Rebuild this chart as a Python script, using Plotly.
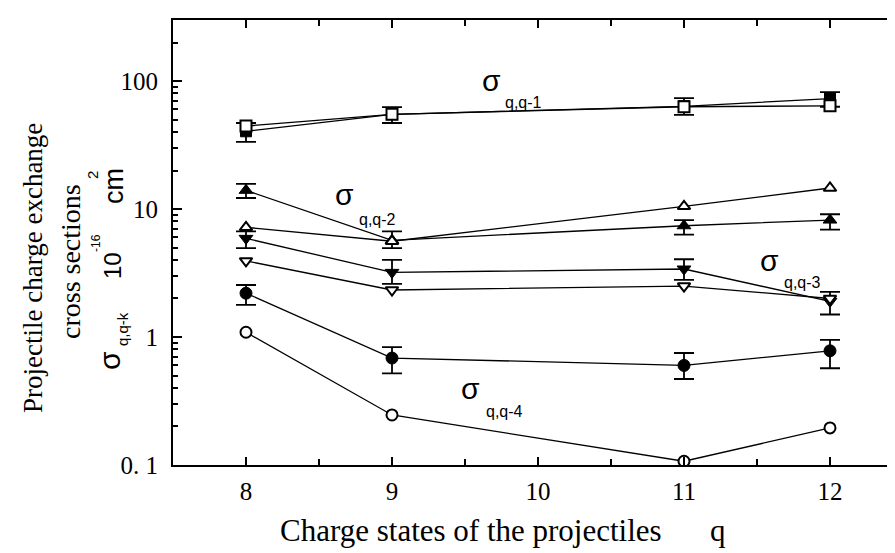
import plotly.graph_objects as go

# ---------------- data ----------------
q = [8, 9, 11, 12]

# sigma_{q,q-1}
sq1_filled = [40.5, 55, 63.5, 73]
sq1_filled_err_plus = [6.5, 7.5, 10, 9]
sq1_filled_err_minus = [7, 8, 9, 10]
sq1_open = [44.5, 55, 63, 64]

# sigma_{q,q-2}
sq2_filled = [14, 5.7, 7.4, 8.2]
sq2_filled_err_plus = [1.7, 1.0, 0.8, 0.9]
sq2_filled_err_minus = [1.8, 0.75, 1.1, 1.3]
sq2_open = [7.2, 5.6, 10.5, 14.6]

# sigma_{q,q-3}
sq3_filled = [5.9, 3.2, 3.4, 1.9]
sq3_filled_err_plus = [0.8, 0.8, 0.65, 0.35]
sq3_filled_err_minus = [0.95, 0.6, 0.6, 0.4]
sq3_open = [3.93, 2.33, 2.5, 2.0]

# sigma_{q,q-4}
sq4_filled = [2.2, 0.685, 0.6, 0.78]
sq4_filled_err_plus = [0.35, 0.15, 0.15, 0.17]
sq4_filled_err_minus = [0.42, 0.165, 0.13, 0.21]
sq4_open = [1.09, 0.246, 0.107, 0.195]

x_tickvals = [8, 9, 10, 11, 12]
x_ticktext = ["8", "9", "10", "11", "12"]
y_tickvals = [0.1, 1, 10, 100]
y_ticktext = ["0. 1", "1", "10", "100"]
y_minor = [0.2, 0.3, 0.4, 0.5, 0.6, 0.7, 0.8, 0.9,
           2, 3, 4, 5, 6, 7, 8, 9,
           20, 30, 40, 50, 60, 70, 80, 90, 200]

# ---------------- figure ----------------
W, H = 895, 553
ML, MR, MT, MB = 165, 0, 12, 96

fig = go.Figure()

LINE = dict(color="black", width=1.3)


def err(plus, minus):
    return dict(type="data", symmetric=False, array=plus, arrayminus=minus,
                color="black", thickness=1.8, width=10)


def filled(y, sym, size, plus, minus):
    fig.add_trace(go.Scatter(
        x=q, y=y, mode="lines+markers", line=LINE,
        marker=dict(symbol=sym, size=size, color="black",
                    line=dict(color="black", width=1)),
        error_y=err(plus, minus), showlegend=False))


def opened(y, sym, size):
    fig.add_trace(go.Scatter(
        x=q, y=y, mode="lines+markers", line=LINE,
        marker=dict(symbol=sym, size=size, color="white",
                    line=dict(color="black", width=2)),
        showlegend=False))


filled(sq1_filled, "square", 11, sq1_filled_err_plus, sq1_filled_err_minus)
opened(sq1_open, "square", 11)
filled(sq2_filled, "triangle-up", 12, sq2_filled_err_plus, sq2_filled_err_minus)
filled(sq3_filled, "triangle-down", 12, sq3_filled_err_plus, sq3_filled_err_minus)
opened(sq2_open, "triangle-up", 11)
opened(sq3_open, "triangle-down", 11)
filled(sq4_filled, "circle", 12, sq4_filled_err_plus, sq4_filled_err_minus)
opened(sq4_open, "circle", 11)

PW = W - ML - MR
PH = H - MT - MB


def px(x, y):
    return (x - ML) / PW, (H - MB - y) / PH


ann = []


def add_text(x, y, text, size, family="Liberation Sans", angle=0):
    xp, yp = px(x, y)
    ann.append(dict(x=xp, y=yp, xref="paper", yref="paper", text=text,
                    showarrow=False, xanchor="center", yanchor="middle",
                    textangle=angle,
                    font=dict(family=family, size=size, color="black")))


# sigma labels in plot
for sx, sy, bx, by, sub in [(483, 72, 515, 95, "q,q-1"),
                            (336, 187, 369, 211, "q,q-2"),
                            (761, 252, 794, 275, "q,q-3"),
                            (462, 380, 496, 403, "q,q-4")]:
    add_text(sx, sy, "σ", 30)
    add_text(bx, by, sub, 16)

# y-axis title
SERIF = "Liberation Serif"
add_text(25, 260, "Projectile charge exchange", 27, SERIF, -90)
add_text(63, 254, "cross sections", 28, SERIF, -90)
add_text(101, 353, "σ", 30, angle=-90)
add_text(114, 321, "q,q-k", 15, angle=-90)
add_text(104, 258, "10", 24, angle=-90)
add_text(88, 235, "-16", 12, angle=-90)
add_text(106, 178, "cm", 27, angle=-90)
add_text(85, 167, "2", 15, angle=-90)

# x-axis title
add_text(463, 522, "Charge states of the projectiles", 31, SERIF)
add_text(710, 522, "q", 31, SERIF)

fig.update_layout(
    width=W, height=H,
    margin=dict(l=ML, r=MR, t=MT, b=MB),
    paper_bgcolor="white", plot_bgcolor="white",
    annotations=ann,
    xaxis=dict(range=[7.5, 12.5], tickmode="array", tickvals=x_tickvals,
               ticktext=x_ticktext, ticks="inside", ticklen=8, tickwidth=2,
               tickcolor="black", showline=True, linecolor="black", linewidth=2,
               mirror="allticks", showgrid=False, zeroline=False,
               ticklabelstandoff=3,
               tickfont=dict(family=SERIF, size=25, color="black"),
               minor=dict(ticks="inside", ticklen=6, tickwidth=2, dtick=0.5,
                          tick0=7.5, tickcolor="black", showgrid=False)),
    yaxis=dict(type="log", range=[-1, 2.477], tickmode="array",
               tickvals=y_tickvals, ticktext=y_ticktext, ticks="inside",
               ticklen=9, tickwidth=2, tickcolor="black", showline=True,
               linecolor="black", linewidth=2, mirror=False, showgrid=False,
               zeroline=False, ticklabelstandoff=8,
               tickfont=dict(family=SERIF, size=25, color="black"),
               minor=dict(ticks="inside", ticklen=5, tickwidth=2,
                          tickmode="array", tickvals=y_minor,
                          tickcolor="black", showgrid=False)),
)

fig.write_html("out.html")
